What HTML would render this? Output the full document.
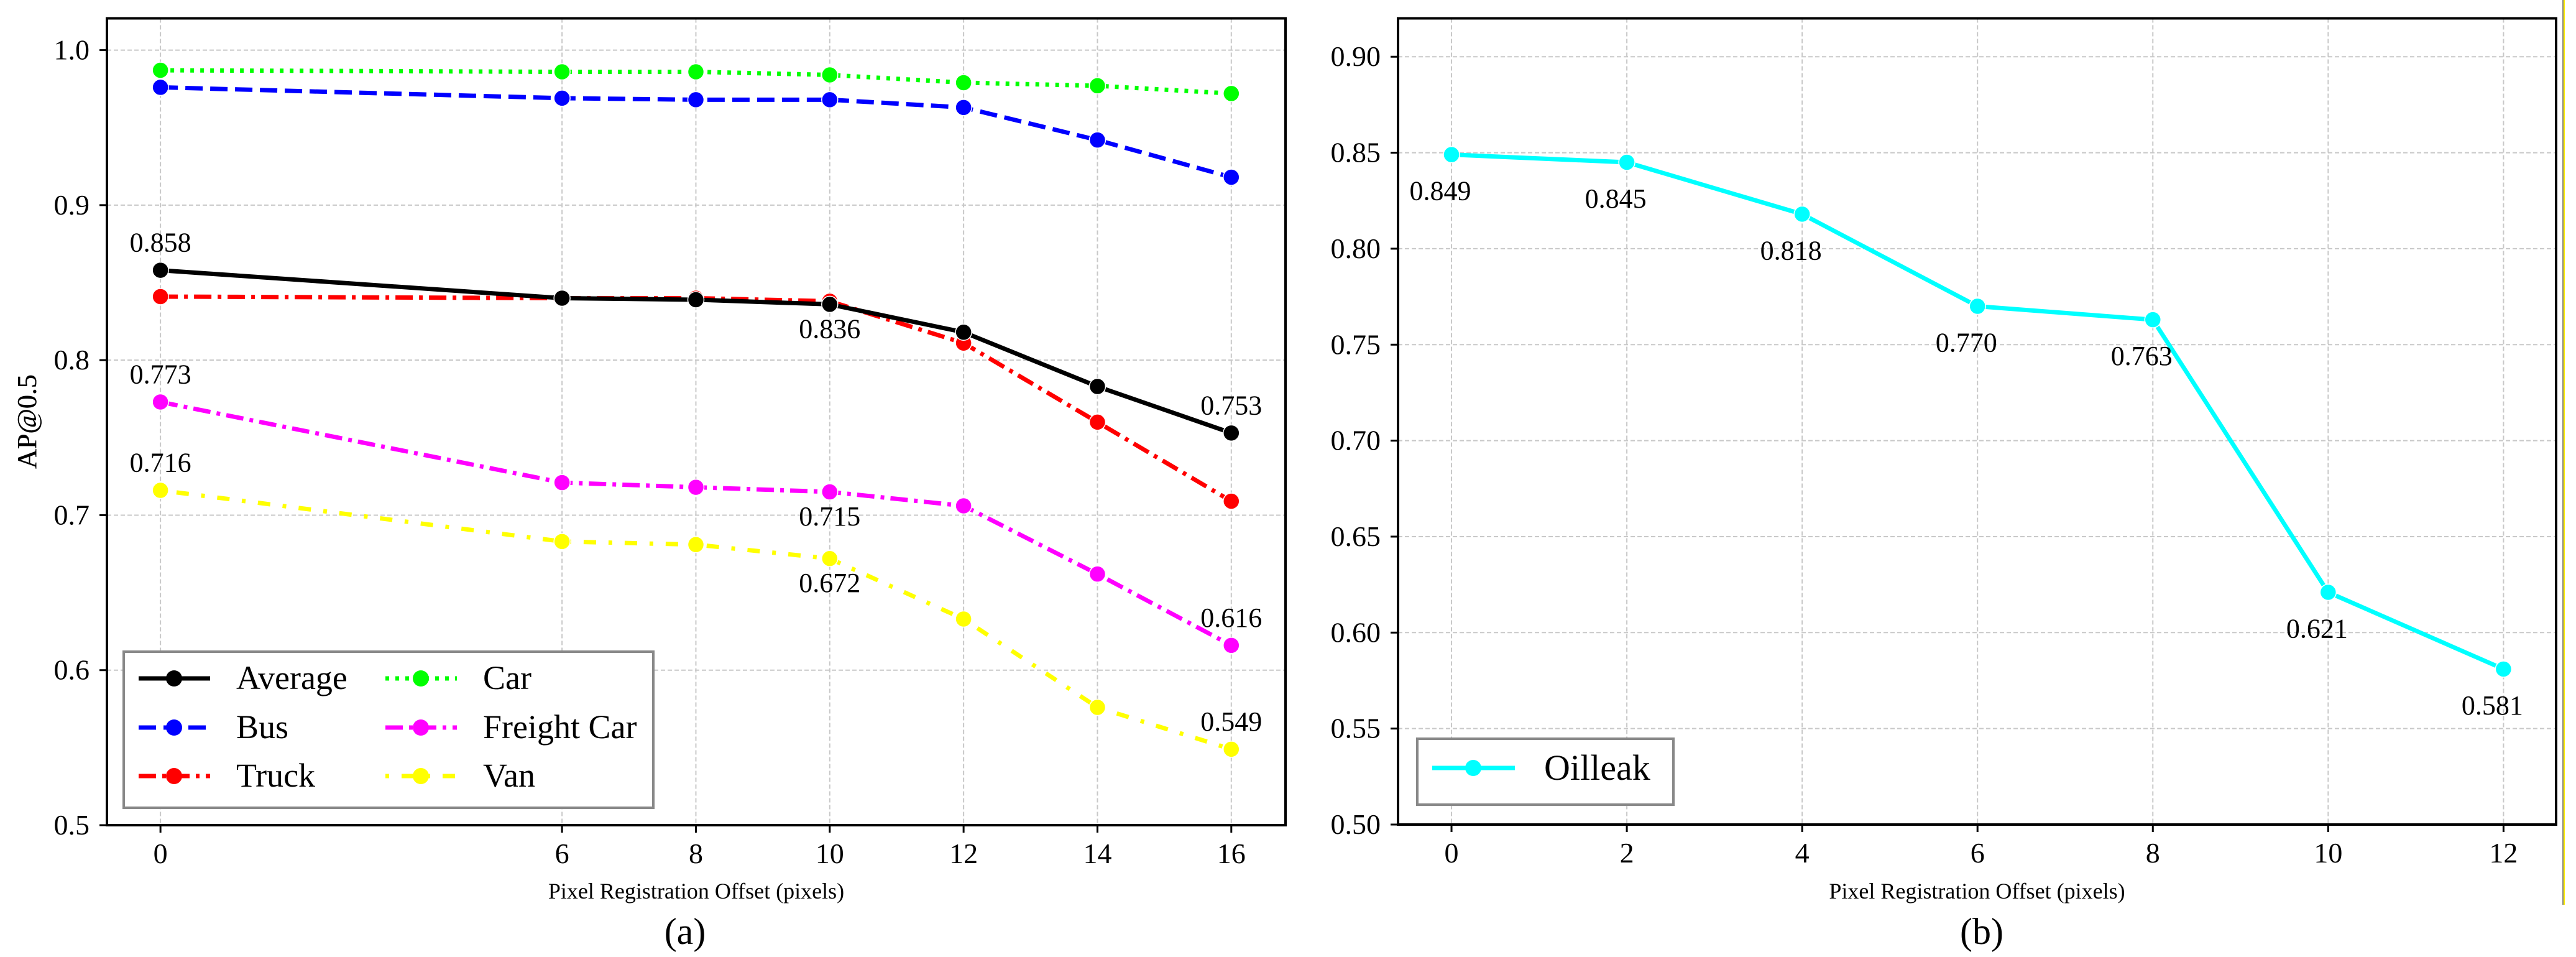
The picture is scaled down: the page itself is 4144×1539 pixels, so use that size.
<!DOCTYPE html>
<html><head><meta charset="utf-8">
<style>
html,body{margin:0;padding:0;background:#fff;}
svg{display:block;}
text{font-family:"Liberation Serif",serif;fill:#000;}
</style></head>
<body>
<svg id="fig" width="4144" height="1539" viewBox="0 0 4144 1539" xmlns="http://www.w3.org/2000/svg">
<rect x="0" y="0" width="4144" height="1539" fill="#fff"/>
<g id="panelA"></g>
<g id="panelB"></g>
<line x1="4123" y1="0" x2="4123" y2="1455" stroke="#888" stroke-width="2"/>
<line x1="4125" y1="0" x2="4125" y2="1455" stroke="#ffee00" stroke-width="2"/>
</svg>
<script>
const NS="http://www.w3.org/2000/svg";
// Panel (a) data
const xA=[0,6,8,10,12,14,16];
const avgVals=[0.858,0.840,0.839,0.836,0.818,0.783,0.753];
const busVals=[0.976,0.969,0.968,0.968,0.963,0.942,0.918];
const truckVals=[0.841,0.840,0.840,0.838,0.811,0.760,0.709];
const carVals=[0.987,0.986,0.986,0.984,0.979,0.977,0.972];
const freightVals=[0.773,0.721,0.718,0.715,0.706,0.662,0.616];
const vanVals=[0.716,0.683,0.681,0.672,0.633,0.576,0.549];
const yTicksA=[0.5,0.6,0.7,0.8,0.9,1.0];
const yTickLabelsA=["0.5","0.6","0.7","0.8","0.9","1.0"];
// Panel (b) data
const xB=[0,2,4,6,8,10,12];
const oilVals=[0.849,0.845,0.818,0.770,0.763,0.621,0.581];
const yTicksB=[0.50,0.55,0.60,0.65,0.70,0.75,0.80,0.85,0.90];
const yTickLabelsB=["0.50","0.55","0.60","0.65","0.70","0.75","0.80","0.85","0.90"];

const SERIF='"Liberation Serif",serif';
function mk(tag,attrs,parent,txt){const e=document.createElementNS(NS,tag);for(const k in attrs)e.setAttribute(k,attrs[k]);if(tag==='text'&&!attrs['font-family'])e.setAttribute('font-family',SERIF);if(txt!==undefined)e.textContent=txt;parent.appendChild(e);return e;}

function axes(L,R,T,B,xmin,xmax,ymin,ymax){
  return {sx:v=>L+(v-xmin)/(xmax-xmin)*(R-L), sy:v=>B-(v-ymin)/(ymax-ymin)*(B-T)};
}

function drawFrame(g,L,R,T,B,ax,xt,yt,ytl,xlabel,cap,capX){
  for(let i=0;i<yt.length;i++){
    const y=ax.sy(yt[i]);
    const gl=mk('line',{x1:L,x2:R,y1:y,y2:y,stroke:'#c8c8c8','stroke-width':2,'stroke-dasharray':'7,4'},g);
    
    
    const tk=mk('line',{x1:L-12,x2:L,y1:y,y2:y,stroke:'#000','stroke-width':3},g);
    
    
    const t=mk('text',{x:L-28,y:y+15,'text-anchor':'end','font-size':46},g,ytl[i]);
    
    
  }
  for(let i=0;i<xt.length;i++){
    const x=ax.sx(xt[i]);
    const gl=mk('line',{x1:x,x2:x,y1:T,y2:B,stroke:'#c8c8c8','stroke-width':2,'stroke-dasharray':'7,4'},g);
    
    
    const tk=mk('line',{x1:x,x2:x,y1:B,y2:B+12,stroke:'#000','stroke-width':3},g);
    
    
    const t=mk('text',{x:x,y:B+61,'text-anchor':'middle','font-size':46},g,String(xt[i]));
    
    
  }
  const fr=mk('rect',{x:L,y:T,width:R-L,height:B-T,fill:'none',stroke:'#000','stroke-width':4},g);
  
  
  const xl=mk('text',{x:(L+R)/2,y:1445,'text-anchor':'middle','font-size':36},g,xlabel);
  
  
  const yl=mk('text',{x:0,y:0,'text-anchor':'middle','font-size':44,transform:`translate(58,${(T+B)/2}) rotate(-90)`},g,'AP@0.5');
  
  
  const c=mk('text',{x:capX,y:1518,'text-anchor':'middle','font-size':60,'font-family':'"DejaVu Sans",sans-serif'},g,cap);
  
  
}

function series(g,ax,xs,vals,color,dash,name){
  const s=mk('g',{},g);
  
  
  const pts=xs.map((x,i)=>ax.sx(x)+','+ax.sy(vals[i])).join(' ');
  const pl=mk('polyline',{points:pts,fill:'none',stroke:color,'stroke-width':7,'stroke-dasharray':dash,'stroke-linejoin':'round'},s);
  
  
  xs.forEach((x,i)=>{
    const c=mk('circle',{cx:ax.sx(x),cy:ax.sy(vals[i]),r:13,fill:color,stroke:'#fff','stroke-width':1.5},s);
    
    
  });
}
function label(g,x,y,txt){
  const t=mk('text',{x:x,y:y,'text-anchor':'middle','font-size':44},g,txt);
  
  
}

// ---- Panel A ----
const gA=document.getElementById('panelA');
const LA=172,RA=2068,TA=29.5,BA=1327;
const axA=axes(LA,RA,TA,BA,-0.8,16.81,0.5,1.0205);
drawFrame(gA,LA,RA,TA,BA,axA,xA,yTicksA,yTickLabelsA,'Pixel Registration Offset (pixels)','(a)',1102);
const D={solid:'none',dash:'28,12',dashdot:'28,10,6,10',dot:'6,10',loose:'6,20,20,20'};
series(gA,axA,xA,carVals,'#00ff00',D.dot,'car');
series(gA,axA,xA,busVals,'#0000ff',D.dash,'bus');
series(gA,axA,xA,truckVals,'#ff0000',D.dashdot,'truck');
series(gA,axA,xA,avgVals,'#000000',D.solid,'average');
series(gA,axA,xA,freightVals,'#ff00ff',D.dashdot,'freight-car');
series(gA,axA,xA,vanVals,'#ffff00',D.loose,'van');
[avgVals,freightVals,vanVals].forEach(v=>{
  label(gA,axA.sx(xA[0]),axA.sy(v[0])-30,v[0].toFixed(3));
  label(gA,axA.sx(xA[3]),axA.sy(v[3])+54,v[3].toFixed(3));
  label(gA,axA.sx(xA[6]),axA.sy(v[6])-30,v[6].toFixed(3));
});
// legend A
const lgA=mk('g',{},gA);


mk('rect',{x:199,y:1048,width:852,height:251,fill:'#fff',stroke:'#888','stroke-width':4},lgA);
const legItems=[['Average','#000',D.solid,223,1091],['Bus','#00f',D.dash,223,1170],['Truck','#f00',D.dashdot,223,1248],['Car','#0f0',D.dot,620,1091],['Freight Car','#f0f',D.dashdot,620,1170],['Van','#ff0',D.loose,620,1248]];
legItems.forEach(([n,c,d,x,y])=>{
  const e=mk('g',{},lgA);
  
  
  mk('line',{x1:x,x2:x+115,y1:y,y2:y,stroke:c,'stroke-width':7,'stroke-dasharray':d},e);
  mk('circle',{cx:x+57,cy:y,r:13,fill:c},e);
  mk('text',{x:x+157,y:y+17,'font-size':54},e,n);
});

// ---- Panel B ----
const gB=document.getElementById('panelB');
const LB=2249,RB=4112,TB=29.5,BB=1326;
const axB=axes(LB,RB,TB,BB,-0.61,12.6,0.5,0.92);
drawFrame(gB,LB,RB,TB,BB,axB,xB,yTicksB,yTickLabelsB,'Pixel Registration Offset (pixels)','(b)',3188);
series(gB,axB,xB,oilVals,'#00ffff',D.solid,'oilleak');
xB.forEach((x,i)=>label(gB,axB.sx(x)-18,axB.sy(oilVals[i])+73,oilVals[i].toFixed(3)));
const lgB=mk('g',{},gB);


mk('rect',{x:2280,y:1188,width:412,height:106,fill:'#fff',stroke:'#888','stroke-width':4},lgB);
const eB=mk('g',{},lgB);


mk('line',{x1:2304,x2:2437,y1:1235,y2:1235,stroke:'#0ff','stroke-width':7},eB);
mk('circle',{cx:2370,cy:1235,r:13,fill:'#0ff'},eB);
mk('text',{x:2484,y:1254,'font-size':58},eB,'Oilleak');
</script>
</body></html>
